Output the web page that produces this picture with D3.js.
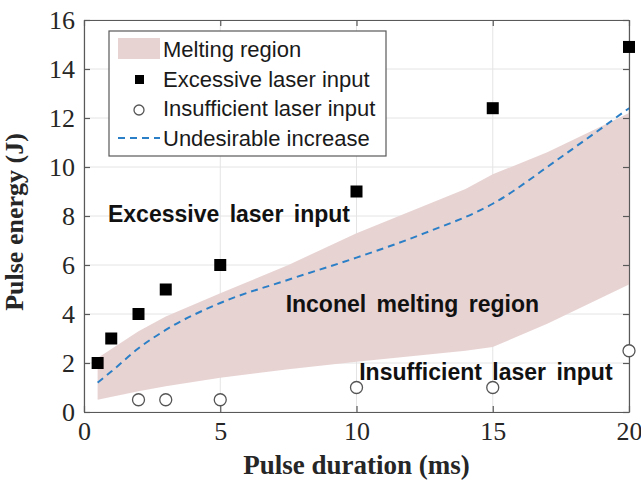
<!DOCTYPE html>
<html>
<head>
<meta charset="utf-8">
<script src="https://cdn.jsdelivr.net/npm/d3@7"></script>
<style>
  body { margin: 0; background: #fff; }
</style>
</head>
<body>
<div id="my_dataviz"></div>
<script>
// data
var excessiveX = [0.5, 1, 2, 3, 5, 10, 15, 20];
var excessiveY = [2, 3, 4, 5, 6, 9, 12.4, 14.9];
var insufficientX = [2, 3, 5, 10, 15, 20];
var insufficientY = [0.5, 0.5, 0.5, 1, 1, 2.5];
var bandX = [0.5, 2, 3, 5, 7.5, 10, 14, 15, 17, 20];
var bandLow = [0.5, 0.85, 1.05, 1.4, 1.75, 2.05, 2.5, 2.65, 3.6, 5.2];
var bandHigh = [2.2, 3.3, 3.9, 4.85, 6.0, 7.3, 9.1, 9.7, 10.6, 12.2];
var trendX = [0.5, 1, 2, 3, 5, 7.5, 10, 12.5, 15, 17.5, 20];
var trendY = [1.2, 1.65, 2.6, 3.35, 4.45, 5.4, 6.3, 7.3, 8.5, 10.4, 12.4];
var xTicks = [0, 5, 10, 15, 20];
var yTicks = [0, 2, 4, 6, 8, 10, 12, 14, 16];

// set the dimensions and margins of the graph
var margin = {top: 20, right: 12, bottom: 72, left: 84},
    width = 641 - margin.left - margin.right,
    height = 484 - margin.top - margin.bottom;

var svg = d3.select("#my_dataviz")
  .append("svg")
    .attr("width", width + margin.left + margin.right)
    .attr("height", height + margin.top + margin.bottom)
  .append("g")
    .attr("transform", "translate(" + margin.left + "," + margin.top + ")");

var x = d3.scaleLinear().domain([0, 20]).range([0, width]);
var y = d3.scaleLinear().domain([0, 16]).range([height, 0]);

// grid
svg.append("g")
  .selectAll("line")
  .data(xTicks)
  .enter().append("line")
    .attr("x1", function(d) { return x(d); })
    .attr("x2", function(d) { return x(d); })
    .attr("y1", 0).attr("y2", height)
    .attr("stroke", "#e4e4e4");
svg.append("g")
  .selectAll("line")
  .data(yTicks)
  .enter().append("line")
    .attr("y1", function(d) { return y(d); })
    .attr("y2", function(d) { return y(d); })
    .attr("x1", 0).attr("x2", width)
    .attr("stroke", "#e4e4e4");

// melting region band
var band = bandX.map(function(d, i) { return {x: d, lo: bandLow[i], hi: bandHigh[i]}; });
svg.append("path")
  .datum(band)
  .attr("fill", "#e8d3d3")
  .attr("d", d3.area()
    .x(function(d) { return x(d.x); })
    .y0(function(d) { return y(d.lo); })
    .y1(function(d) { return y(d.hi); }));

// undesirable increase
var trend = trendX.map(function(d, i) { return [d, trendY[i]]; });
svg.append("path")
  .datum(trend)
  .attr("fill", "none")
  .attr("stroke", "#2b7fc6")
  .attr("stroke-width", 2)
  .attr("stroke-dasharray", "7,5")
  .attr("d", d3.line()
    .curve(d3.curveMonotoneX)
    .x(function(d) { return x(d[0]); })
    .y(function(d) { return y(d[1]); }));

// axes (MATLAB style box, ticks inward)
var tickFont = "'Liberation Serif', 'Times New Roman', serif";
svg.append("g")
  .attr("transform", "translate(0," + height + ")")
  .call(d3.axisBottom(x).tickValues(xTicks).tickSizeInner(-6).tickSizeOuter(0).tickPadding(10));
svg.append("g")
  .call(d3.axisLeft(y).tickValues(yTicks).tickSizeInner(-6).tickSizeOuter(0).tickPadding(9));
svg.append("g")
  .call(d3.axisTop(x).tickValues(xTicks).tickSizeInner(-6).tickSizeOuter(0).tickFormat(""));
svg.append("g")
  .attr("transform", "translate(" + width + ",0)")
  .call(d3.axisRight(y).tickValues(yTicks).tickSizeInner(-6).tickSizeOuter(0).tickFormat(""));
svg.selectAll(".domain, .tick line").attr("stroke", "#595959").attr("stroke-width", 1.2);
svg.selectAll(".tick text")
  .attr("fill", "#262626")
  .style("font-family", tickFont)
  .style("font-size", "26px");

// axis titles
svg.append("text")
  .attr("x", width / 2)
  .attr("y", height + 62)
  .attr("text-anchor", "middle")
  .style("font-family", tickFont)
  .style("font-weight", "bold")
  .style("font-size", "27px")
  .attr("fill", "#262626")
  .text("Pulse duration (ms)");
svg.append("text")
  .attr("transform", "translate(" + (-61) + "," + (height / 2 + 6) + ")rotate(-90)")
  .attr("text-anchor", "middle")
  .style("font-family", tickFont)
  .style("font-weight", "bold")
  .style("font-size", "26px")
  .attr("fill", "#262626")
  .text("Pulse energy (J)");

// markers
svg.selectAll("excessive")
  .data(excessiveX)
  .enter()
  .append("rect")
    .attr("x", function(d) { return x(d) - 6; })
    .attr("y", function(d, i) { return y(excessiveY[i]) - 6; })
    .attr("width", 12)
    .attr("height", 12)
    .attr("fill", "#000");
svg.selectAll("insufficient")
  .data(insufficientX)
  .enter()
  .append("circle")
    .attr("cx", function(d) { return x(d); })
    .attr("cy", function(d, i) { return y(insufficientY[i]); })
    .attr("r", 6)
    .attr("fill", "#fff")
    .attr("stroke", "#555")
    .attr("stroke-width", 1.3);

// annotations
var sans = "'Liberation Sans', Arial, sans-serif";
var notes = [
  {t: "Excessive laser input", x: 0.88, y: 7.75},
  {t: "Inconel melting region", x: 7.4, y: 4.1},
  {t: "Insufficient laser input", x: 10.1, y: 1.3}
];
svg.selectAll("notes")
  .data(notes)
  .enter()
  .append("text")
    .attr("x", function(d) { return x(d.x); })
    .attr("y", function(d) { return y(d.y); })
    .style("font-family", sans)
    .style("font-weight", "bold")
    .style("font-size", "23px")
    .style("word-spacing", "4px")
    .attr("fill", "#111")
    .text(function(d) { return d.t; });

// legend
var legend = svg.append("g").attr("transform", "translate(25,11)");
legend.append("rect")
  .attr("width", 277).attr("height", 125)
  .attr("fill", "#fff")
  .attr("stroke", "#595959")
  .attr("stroke-width", 1.2);
var labels = ["Melting region", "Excessive laser input", "Insufficient laser input", "Undesirable increase"];
legend.selectAll("labels")
  .data(labels)
  .enter()
  .append("text")
    .attr("x", 54)
    .attr("y", function(d, i) { return 26 + i * 29.7; })
    .style("font-family", sans)
    .style("font-size", "22px")
    .attr("fill", "#1a1a1a")
    .text(function(d) { return d; });
legend.append("rect")
  .attr("x", 9).attr("y", 7).attr("width", 42).attr("height", 21)
  .attr("fill", "#e8d3d3");
legend.append("rect")
  .attr("x", 26).attr("y", 44).attr("width", 9).attr("height", 9)
  .attr("fill", "#000");
legend.append("circle")
  .attr("cx", 30).attr("cy", 79).attr("r", 5)
  .attr("fill", "#fff").attr("stroke", "#555").attr("stroke-width", 1.3);
legend.append("line")
  .attr("x1", 9).attr("x2", 51).attr("y1", 107).attr("y2", 107)
  .attr("stroke", "#2b7fc6").attr("stroke-width", 2)
  .attr("stroke-dasharray", "7,5");
</script>
</body>
</html>
